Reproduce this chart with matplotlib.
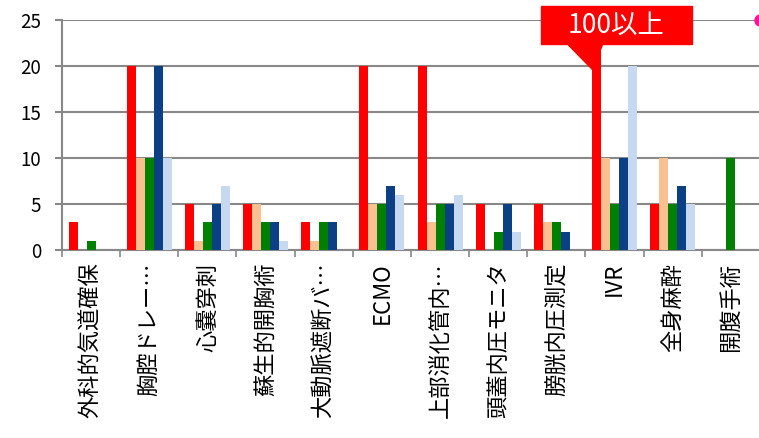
import numpy as np
import matplotlib.pyplot as plt
from matplotlib.patches import Rectangle, Polygon

plt.rcParams['font.family'] = ['Noto Sans CJK JP', 'DejaVu Sans']

categories = ['外科的気道確保', '胸腔ドレー…', '心嚢穿刺', '蘇生的開胸術', '大動脈遮断バ…',
              'ECMO', '上部消化管内…', '頭蓋内圧モニタ', '膀胱内圧測定', 'IVR', '全身麻酔', '開腹手術']
series1 = [3, 20, 5, 5, 3, 20, 20, 5, 5, 100, 5, 0]
series2 = [0, 10, 1, 5, 1, 5, 3, 0, 3, 10, 10, 0]
series3 = [1, 10, 3, 3, 3, 5, 5, 2, 3, 5, 5, 10]
series4 = [0, 20, 5, 3, 3, 7, 5, 5, 2, 10, 7, 0]
series5 = [0, 10, 7, 1, 0, 6, 6, 2, 0, 20, 5, 0]
colors = ['#FF0000', '#FAC090', '#008000', '#0B4184', '#C6D9F1']
callout_text = '100以上'

fig = plt.figure(figsize=(7.59, 4.38), dpi=100)
ax = fig.add_axes([62 / 759, 1 - 250 / 438, 698 / 759, 230 / 438])

all_series = [series1, series2, series3, series4, series5]
bw = 0.155
x = np.arange(len(categories))
start = 0.5 - bw * len(all_series) / 2
for i, (vals, c) in enumerate(zip(all_series, colors)):
    ax.bar(x + start + i * bw, vals, width=bw, align='edge', color=c, zorder=3)

ax.set_xlim(0, len(categories))
ax.set_ylim(0, 25)
ax.set_yticks(range(0, 26, 5))
ax.grid(axis='y', color='#888888', linewidth=1.5, zorder=0)
for s in ['top', 'right']:
    ax.spines[s].set_visible(False)
for s in ['left', 'bottom']:
    ax.spines[s].set_color('#888888')
    ax.spines[s].set_linewidth(1.5)

ax.set_xticks(range(len(categories) + 1))
ax.set_xticklabels([])
ax.tick_params(axis='x', which='major', length=5, width=1.2, color='#888888')
ax.set_xticks(x + 0.5, minor=True)
ax.set_xticklabels(categories, minor=True, rotation=90, fontsize=16, va='top')
ax.tick_params(axis='x', which='minor', length=0, pad=9)
ax.tick_params(axis='y', length=5, width=1.5, color='#888888', labelsize=13.5, pad=10)

# callout over the IVR bar
ivr = categories.index('IVR')
bx = ivr + start
ax.add_patch(Rectangle((bx - 0.88, 22.4), 2.59, 4.1, color='#FF0000', clip_on=False, zorder=5))
ax.add_patch(Polygon([(bx - 0.44, 22.5), (bx + 0.19, 22.5), (bx + 0.01, 19.6)],
                     color='#FF0000', clip_on=False, zorder=5))
ax.text(bx + 0.415, 24.45, callout_text, color='white', fontsize=19, ha='center', va='center', zorder=6)

ax.plot([len(categories)], [25], 'o', color='#FF1493', markersize=8, clip_on=False, zorder=6)

fig.savefig('out.png', dpi=100)
